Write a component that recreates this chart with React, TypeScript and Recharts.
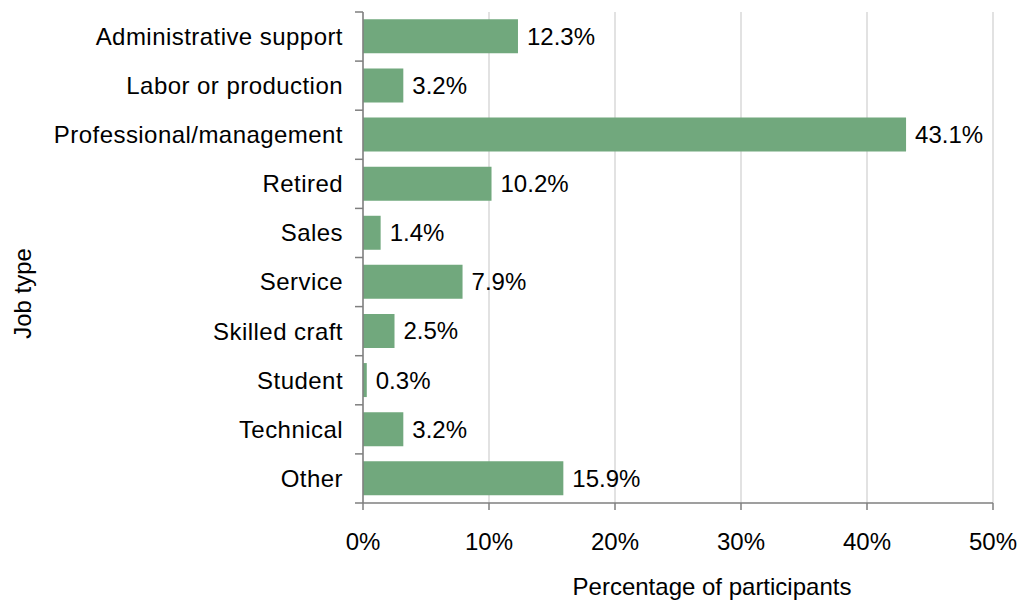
import { BarChart, Bar, XAxis, YAxis, CartesianGrid, LabelList, Label } from 'recharts';

const jobTypes = [
  'Administrative support',
  'Labor or production',
  'Professional/management',
  'Retired',
  'Sales',
  'Service',
  'Skilled craft',
  'Student',
  'Technical',
  'Other',
];
const shares = [12.3, 3.2, 43.1, 10.2, 1.4, 7.9, 2.5, 0.3, 3.2, 15.9];
const xTicks = [0, 10, 20, 30, 40, 50];

const data = jobTypes.map((job, i) => ({ job, share: shares[i] }));

const FONT = '"Liberation Sans", Arial, sans-serif';
const FS = 24;
const AXIS_X = 363;
const PLOT_H = 491;
const BAND = PLOT_H / jobTypes.length;

function JobTick(props: any) {
  const { y, payload, index } = props;
  const top = y - BAND / 2;
  return (
    <g>
      <line x1={AXIS_X - 8} x2={AXIS_X} y1={top} y2={top} stroke="#7f7f7f" strokeWidth={1.5} />
      {index === jobTypes.length - 1 && (
        <line x1={AXIS_X - 8} x2={AXIS_X} y1={top + BAND} y2={top + BAND} stroke="#7f7f7f" strokeWidth={1.5} />
      )}
      <text
        x={AXIS_X - 20}
        y={y}
        dy="0.35em"
        textAnchor="end"
        fontSize={FS}
        letterSpacing={0.45}
        fill="#000"
        fontFamily={FONT}
      >
        {payload.value}
      </text>
    </g>
  );
}

export default function App() {
  return (
    <div style={{ position: 'absolute', left: 0, top: 0, width: 1033, height: 603, background: '#fff' }}>
      <BarChart
        width={1033}
        height={603}
        data={data}
        layout="vertical"
        margin={{ top: 12, right: 40, bottom: 0, left: 0 }}
        barCategoryGap="15%"
        style={{ fontFamily: FONT }}
      >
        <CartesianGrid horizontal={false} stroke="#d9d9d9" strokeWidth={1.5} />
        <XAxis
          type="number"
          domain={[0, 50]}
          ticks={xTicks}
          tickFormatter={(v: number) => `${v}%`}
          height={100}
          tickSize={7}
          tickMargin={23}
          stroke="#7f7f7f"
          strokeWidth={1.5}
          tick={{ fill: '#000', fontSize: FS, fontFamily: FONT }}
        >
          <Label
            value="Percentage of participants"
            position="insideBottom"
            offset={8}
            dx={34}
            style={{ fill: '#000', fontSize: FS, fontFamily: FONT }}
          />
        </XAxis>
        <YAxis
          type="category"
          dataKey="job"
          width={363}
          tickLine={false}
          stroke="#7f7f7f"
          strokeWidth={1.5}
          tick={<JobTick />}
          interval={0}
        >
          <Label
            value="Job type"
            angle={-90}
            position="insideLeft"
            offset={22}
            dy={36}
            style={{ fill: '#000', fontSize: FS, fontFamily: FONT, textAnchor: 'middle' }}
          />
        </YAxis>
        <Bar dataKey="share" fill="#71a87d" isAnimationActive={false}>
          <LabelList
            dataKey="share"
            position="right"
            offset={9}
            formatter={(v: any) => `${v}%`}
            style={{ fill: '#000', fontSize: FS, fontFamily: FONT }}
          />
        </Bar>
      </BarChart>
    </div>
  );
}
